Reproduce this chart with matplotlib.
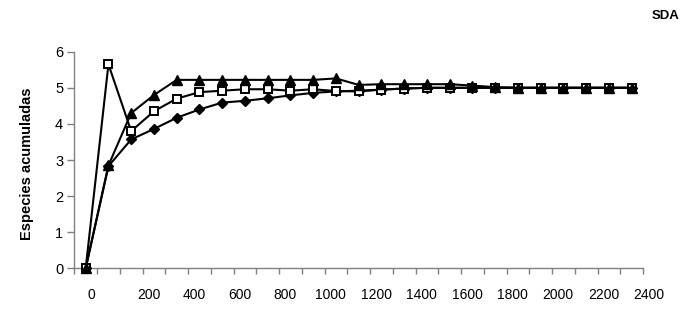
import matplotlib
matplotlib.use("Agg")
import matplotlib.pyplot as plt
import matplotlib.transforms as mtransforms

# ---- data ----
muestras = list(range(0, 2500, 100))  # 25 categories
triangulos = [0, 2.85, 4.30, 4.80, 5.22, 5.22, 5.22, 5.22, 5.22, 5.22, 5.22, 5.26,
              5.08, 5.10, 5.10, 5.10, 5.10, 5.06, 5.02, 5.00, 5.00, 5.00, 5.00, 5.00, 5.00]
cuadrados = [0, 5.65, 3.80, 4.35, 4.70, 4.88, 4.92, 4.96, 4.96, 4.92, 4.96, 4.91,
             4.90, 4.95, 4.98, 5.00, 5.00, 5.00, 5.00, 5.00, 5.00, 5.00, 5.00, 5.00, 5.00]
rombos = [0, 2.83, 3.57, 3.86, 4.17, 4.40, 4.59, 4.64, 4.71, 4.79, 4.86, 4.90,
          4.92, 4.95, 4.98, 5.00, 5.00, 5.00, 5.00, 5.00, 5.00, 5.00, 5.00, 5.00, 5.00]
xlabels = ["0", "200", "400", "600", "800", "1000", "1200", "1400", "1600",
           "1800", "2000", "2200", "2400"]
yticks = [0, 1, 2, 3, 4, 5, 6]

plt.rcParams['font.family'] = ['Liberation Sans', 'DejaVu Sans']

fig = plt.figure(figsize=(6.92, 3.30), dpi=100)
ax = fig.add_axes([0.1074, 0.187, 0.9292 - 0.1074, 0.8433 - 0.187])

idx = list(range(len(muestras)))
lw = 1.5
ax.plot(idx, rombos, color='black', lw=lw, marker='D', markersize=5.5,
        markerfacecolor='black', markeredgecolor='black', zorder=3, clip_on=False)
ax.plot(idx, cuadrados, color='black', lw=lw, marker='s', markersize=6,
        markerfacecolor='white', markeredgecolor='black', markeredgewidth=1.4,
        zorder=4, clip_on=False)
ax.plot(idx, triangulos, color='black', lw=lw, marker='^', markersize=7.5,
        markerfacecolor='black', markeredgecolor='black', zorder=5, clip_on=False)

ax.set_xlim(-0.5, len(muestras) - 0.5)
ax.set_ylim(0, 6)

# spines
for s in ['top', 'right']:
    ax.spines[s].set_visible(False)
for s in ['left', 'bottom']:
    ax.spines[s].set_color('#808080')
    ax.spines[s].set_linewidth(1.0)

# y axis
ax.set_yticks(yticks)
ax.set_yticklabels([str(v) for v in yticks], fontsize=10.5)
ax.tick_params(axis='y', direction='out', length=5, width=1, color='#808080', pad=3)

# x axis: tick marks between categories
bounds = [i - 0.5 for i in range(len(muestras) + 1)]
ax.set_xticks(bounds)
ax.set_xticklabels([])
ax.tick_params(axis='x', direction='out', length=4, width=1, color='#808080')

# x labels at every second boundary
for k, lab in enumerate(xlabels):
    pos = 0.5 + 2 * k
    dx = -6 if k == 0 else 6
    tr = ax.get_xaxis_transform() + mtransforms.ScaledTranslation(dx / 100, -20 / 100, fig.dpi_scale_trans)
    ax.text(pos, 0, lab, transform=tr, ha='center', va='top', fontsize=10)

# y label
fig.text(26.5 / 692, 1 - 163.5 / 330, "Especies acumuladas", rotation=90,
         ha='center', va='center', fontsize=10.5, fontweight='bold')

# panel label
fig.text(666 / 692, 1 - 16 / 330, "SDA", ha='center', va='center',
         fontsize=9.5, fontweight='bold')

fig.savefig("out.png", dpi=100)
